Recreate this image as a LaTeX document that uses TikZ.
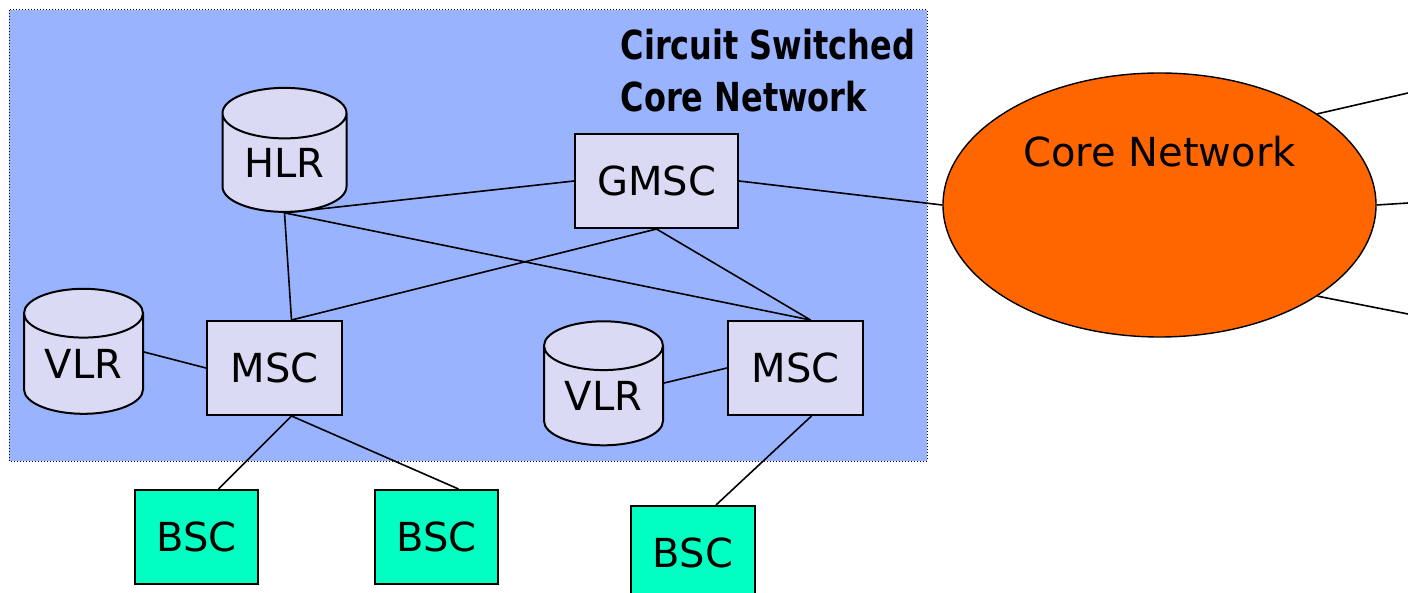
\documentclass[tikz,border=0pt]{standalone}
\usepackage{fontspec}
\setmainfont{DejaVu Sans}
\newfontfamily\titlefont[FakeStretch=0.8]{DejaVu Sans}
\usetikzlibrary{shapes.geometric,backgrounds}
\definecolor{csblue}{RGB}{153,179,255}
\definecolor{nodelilac}{RGB}{218,218,245}
\definecolor{bscgreen}{RGB}{0,255,192}
\definecolor{coreorange}{RGB}{255,102,0}
\tikzset{
  box/.style={draw,line width=2pt,fill=nodelilac,inner sep=0pt,
    minimum height=94pt,font=\fontsize{40}{48}\selectfont},
  bsc/.style={box,fill=bscgreen,minimum width=123pt},
  db/.style={cylinder,shape border rotate=90,draw,line width=2pt,fill=nodelilac,
    inner sep=0pt,aspect=0.63,font=\fontsize{40}{48}\selectfont},
  link/.style={line width=1.6pt},
}

\begin{document}
\begin{tikzpicture}[x=1pt,y=-1pt]
\useasboundingbox (0,0) rectangle (1408,593);
% switching part
\node[db,minimum width=124pt,minimum height=124pt] (hlr) at (284.5,163) {HLR};
\node[box,minimum width=163pt] (gmsc) at (656.5,181) {GMSC};
\node[db,minimum width=119pt,minimum height=125pt] (vlrl) at (83.5,364) {VLR};
\node[box,minimum width=135pt] (mscl) at (274.5,368) {MSC};
\node[db,minimum width=119pt,minimum height=124pt] (vlrr) at (603.5,396) {VLR};
\node[box,minimum width=135pt] (mscr) at (795.5,368) {MSC};
\node[anchor=north west,align=left,font=\titlefont\bfseries\fontsize{40}{52}\selectfont]
  (title) at (617,26) {Circuit Switched\\Core Network};
% radio side
\node[bsc] (bsca) at (196.5,537) {BSC};
\node[bsc] (bscb) at (436.5,537) {BSC};
\node[bsc,minimum width=124pt] (bscc) at (693,553) {BSC};
% core network
\node[ellipse,draw,line width=1.4pt,fill=coreorange,minimum width=433pt,minimum height=264pt,
  label={[yshift=53pt,font=\fontsize{40}{48}\selectfont]center:Core Network}] (core) at (1159.5,205) {};
\coordinate (outa) at (1408,93);
\coordinate (outb) at (1408,203);
\coordinate (outc) at (1408,314);

\begin{pgfonlayer}{background}
\draw[dotted,line width=1pt,fill=csblue] (9,10) rectangle (927,461);
\draw[link] (hlr.south) -- (gmsc.west);
\draw[link] (hlr.south) -- ([xshift=17pt]mscl.north);
\draw[link] (hlr.south) -- ([xshift=15pt]mscr.north);
\draw[link] (gmsc.south) -- ([xshift=17pt]mscl.north);
\draw[link] (gmsc.south) -- ([xshift=15pt]mscr.north);
\draw[link] ([yshift=12pt]vlrl.east) -- (mscl.west);
\draw[link] ([yshift=13pt]vlrr.east) -- (mscr.west);
\draw[link] ([xshift=17pt]mscl.south) -- ([xshift=22pt]bsca.north);
\draw[link] ([xshift=17pt]mscl.south) -- ([xshift=22pt]bscb.north);
\draw[link] ([xshift=16pt]mscr.south) -- ([xshift=23pt]bscc.north);
\draw[link] (gmsc.east) -- (core.west);
\draw[link] (core.30) -- (outa);
\draw[link] (core.east) -- (outb);
\draw[link] (core.-30) -- (outc);
\end{pgfonlayer}
\end{tikzpicture}
\end{document}
